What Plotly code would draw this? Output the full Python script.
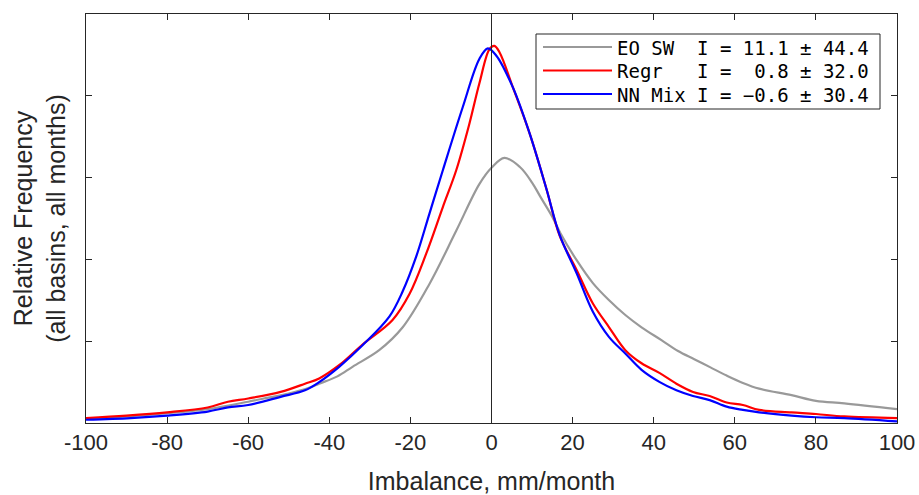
import plotly.graph_objects as go

# ---- data ----
x_eo = [-100, -90, -80, -70, -60, -55, -50, -45, -42.5, -38, -34.2, -27.7, -21.9, -15.3, -8.7, -3, 0, 3.2, 7, 10, 12, 15, 17,
        21, 25, 29, 33, 37, 42, 46, 50, 54, 58, 62, 66, 74, 80, 87, 100]
y_eo = [0.05, 0.08, 0.12, 0.17, 0.26, 0.31, 0.36, 0.43, 0.48, 0.57, 0.69, 0.89, 1.17, 1.70, 2.35, 2.92, 3.12, 3.24, 3.13, 2.94, 2.77, 2.52, 2.32,
        1.99, 1.71, 1.50, 1.32, 1.17, 1.01, 0.88, 0.78, 0.68, 0.58, 0.49, 0.42, 0.34, 0.27, 0.24, 0.17]

x_regr = [-100, -90, -80, -70, -65, -60, -52, -46, -42.5, -37.5, -31.8, -24.4, -20.2, -16.1, -12, -8.7, -5.5, -3, -0.5, 0.7, 2, 5.3, 9.4,
          13.5, 16.8, 21, 25, 29, 33, 37, 41.5, 45.6, 49.7, 53.8, 58, 62, 66, 74, 80, 87, 100]
y_regr = [0.06, 0.09, 0.13, 0.19, 0.26, 0.30, 0.38, 0.48, 0.545, 0.71, 0.96, 1.26, 1.58, 2.07, 2.64, 3.09, 3.65, 4.15, 4.57, 4.61, 4.53, 4.10, 3.54,
          2.87, 2.29, 1.87, 1.46, 1.17, 0.89, 0.73, 0.61, 0.48, 0.38, 0.33, 0.25, 0.22, 0.16, 0.13, 0.11, 0.08, 0.06]

x_nn = [-100, -89, -80, -70, -65, -60, -52, -46, -42.5, -37.5, -31.8, -25.2, -21.9, -18.6, -15.3, -12, -7.1, -3, -0.9, 1.2, 5.3, 9.4,
        13.5, 16.8, 21, 25, 29, 33, 37, 41.5, 45.6, 49.7, 53.8, 58, 62, 66, 74, 80, 87, 100]
y_nn = [0.04, 0.06, 0.09, 0.14, 0.19, 0.22, 0.32, 0.40, 0.50, 0.69, 0.95, 1.30, 1.61, 2.03, 2.56, 3.09, 3.86, 4.45, 4.58, 4.49, 4.10, 3.54,
        2.87, 2.30, 1.83, 1.36, 1.05, 0.85, 0.65, 0.50, 0.40, 0.33, 0.28, 0.20, 0.16, 0.13, 0.09, 0.07, 0.06, 0.02]

series_names = ["EO SW\u00a0\u00a0I = 11.1 ± 44.4",
                "Regr\u00a0\u00a0\u00a0I =\u00a0\u00a00.8 ± 32.0",
                "NN Mix I = \u22120.6 ± 30.4"]
series_colors = ["#999999", "#ff0000", "#0000ff"]

x_tickvals = [-100, -80, -60, -40, -20, 0, 20, 40, 60, 80, 100]
x_ticktext = ["-100", "-80", "-60", "-40", "-20", "0", "20", "40", "60", "80", "100"]
y_tickvals = [1, 2, 3, 4]

# plot area in page px: x 86..897, y 14..423
PX0, PX1, PY0, PY1 = 86, 897, 14, 423
def px(xp):
    return (xp - PX0) / (PX1 - PX0)
def py(yp):
    return (PY1 - yp) / (PY1 - PY0)

fig = go.Figure()
for xs, ys, nm, col in [(x_eo, y_eo, series_names[0], series_colors[0]),
                        (x_regr, y_regr, series_names[1], series_colors[1]),
                        (x_nn, y_nn, series_names[2], series_colors[2])]:
    fig.add_trace(go.Scatter(x=xs, y=ys, mode="lines", name=nm, showlegend=False,
                             line=dict(color=col, width=2.2, shape="spline", smoothing=1.0)))

axis_col = "#262626"
fig.add_shape(type="line", xref="x", yref="paper", x0=0, x1=0, y0=0, y1=1,
              line=dict(color=axis_col, width=1))

# legend box drawn as shapes + text
fig.add_shape(type="rect", xref="paper", yref="paper", x0=px(536), x1=px(880), y0=py(109), y1=py(34),
              line=dict(color=axis_col, width=1), fillcolor="white", layer="above")
row_y = [47, 70.5, 94]
for i, (nm, col) in enumerate(zip(series_names, series_colors)):
    fig.add_shape(type="line", xref="paper", yref="paper", x0=px(543), x1=px(612), y0=py(row_y[i]), y1=py(row_y[i]),
                  line=dict(color=col, width=2.2), layer="above")
    fig.add_annotation(xref="paper", yref="paper", x=px(615), y=py(row_y[i] + 1), xanchor="left", yanchor="middle",
                       text=nm, showarrow=False,
                       font=dict(family="DejaVu Sans Mono, monospace", size=19, color="black"))

fig.update_layout(
    width=919, height=495,
    margin=dict(l=PX0, r=919 - PX1, t=PY0, b=495 - PY1, autoexpand=False),
    plot_bgcolor="white", paper_bgcolor="white",
    font=dict(family="Liberation Sans, Arial, sans-serif", color=axis_col),
    showlegend=False,
    xaxis=dict(range=[-100, 100], tickmode="array", tickvals=x_tickvals, ticktext=x_ticktext,
               ticks="inside", ticklen=6, tickcolor=axis_col, showline=True, linecolor=axis_col,
               linewidth=1, mirror="ticks", showgrid=False, zeroline=False,
               tickfont=dict(size=22, color=axis_col),
               title=dict(text="Imbalance, mm/month", font=dict(size=25, color=axis_col), standoff=19)),
    yaxis=dict(range=[0, 5], tickmode="array", tickvals=y_tickvals, showticklabels=False,
               ticks="inside", ticklen=6, tickcolor=axis_col, showline=True, linecolor=axis_col,
               linewidth=1, mirror="ticks", showgrid=False, zeroline=False,
               title=dict(text="Relative Frequency<br>(all basins, all months)",
                          font=dict(size=25, color=axis_col), standoff=12)),
)

fig.write_html("out.html", config={"displayModeBar": False},
               post_script="document.body.style.margin='0';document.body.style.overflow='hidden';")
